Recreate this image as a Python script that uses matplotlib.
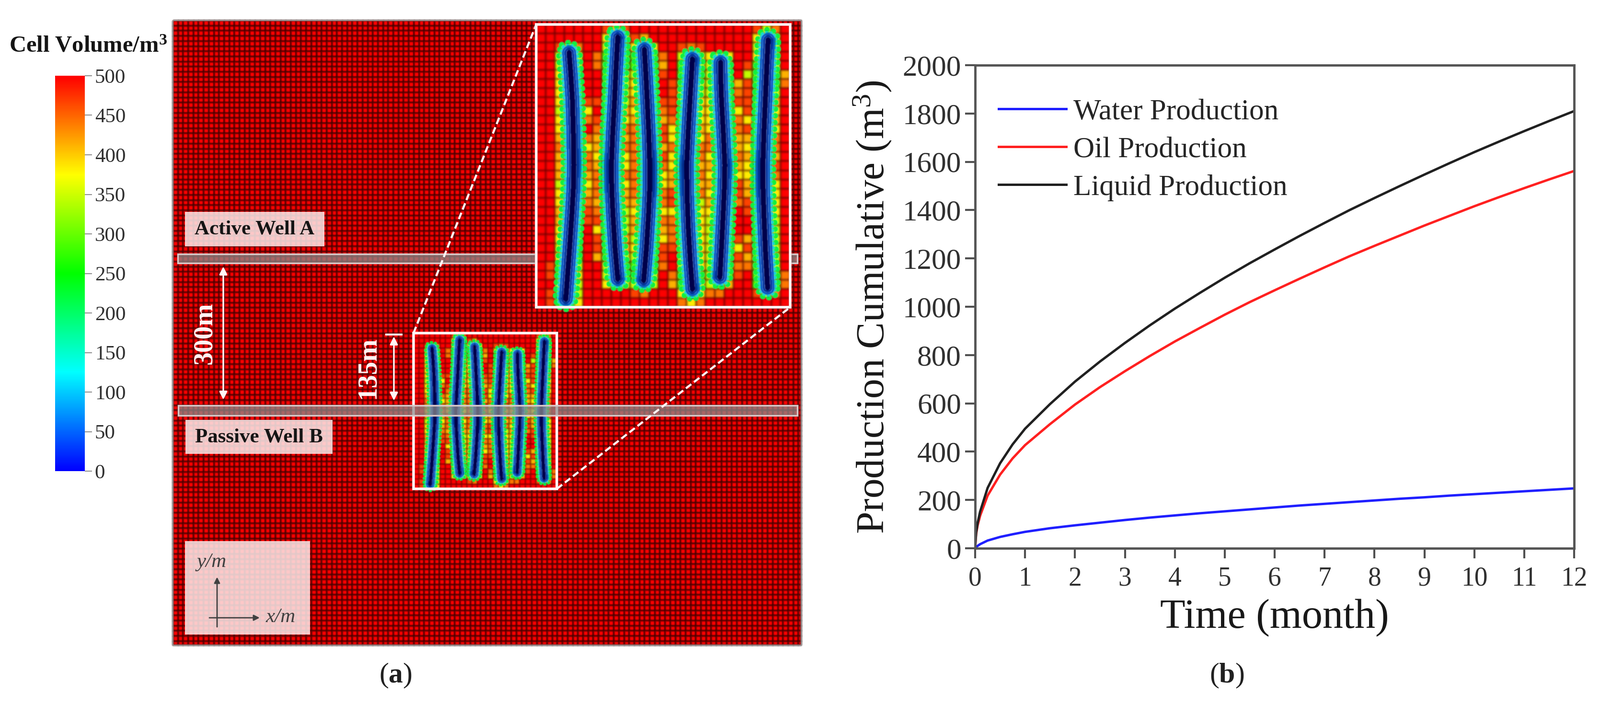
#!/usr/bin/env python3
"""Fracture mesh panel (a) and cumulative production curves (b)."""
import numpy as np
import matplotlib
matplotlib.use("Agg")
import matplotlib.pyplot as plt
from matplotlib.colors import LinearSegmentedColormap
from matplotlib.patches import Rectangle
from matplotlib.cm import ScalarMappable
from matplotlib.colors import Normalize

W, H = 3339, 1471

# production curves
TIME = [0, 0.02, 0.05, 0.1, 0.25, 0.5, 0.75, 1, 1.5, 2, 2.5, 3, 3.5, 4, 4.5, 5, 5.5, 6, 6.5, 7, 7.5, 8, 8.5, 9, 9.5, 10, 10.5, 11, 11.5, 12]
WATER = [0, 5, 10, 17, 32, 47, 58, 68, 83, 95, 106, 117, 127, 136, 145, 153, 161, 169, 177, 184, 191, 198, 205, 211, 218, 224, 230, 236, 242, 248]
OIL = [0, 60, 95, 135, 218, 305, 372, 427, 514, 595, 667, 733, 796, 856, 912, 967, 1019, 1068, 1116, 1163, 1209, 1252, 1294, 1336, 1376, 1416, 1454, 1491, 1527, 1562]
LIQUID = [0, 65, 105, 152, 250, 352, 430, 495, 597, 690, 773, 850, 923, 992, 1057, 1120, 1180, 1237, 1293, 1347, 1400, 1450, 1499, 1547, 1594, 1640, 1684, 1727, 1769, 1810]
X_TICKS = list(range(0, 13))
Y_TICKS = list(range(0, 2001, 200))
CBAR_TICKS = list(range(0, 501, 50))

# cell volumes in the refined box, one letter per cell
CELL_VALUES = {"R": 500, "N": 465, "O": 440, "A": 412, "Y": 382, "L": 345, "G": 285}
CELL_ROWS = [
    "RRRRRRRNANRRRR" "RRRRRRRRRNLOR",
    "RRRRRRRYGLNARR" "RRRRRRRRRYGLR",
    "RRNLORRLGGYGYR" "RNONRRRRRLGLR",
    "RRLGLROGGGGGGO" "RLGLYLYRRYGLR",
    "RRLGLROGGGGGGA" "RGGLLGGRNGGLR",
    "RRYGGRRGGLLGGN" "RGGGLGGRLGGGA",
    "RRYGGRRGGLYGGR" "NGGLLGGANGGGO",
    "RRYGGRRGGLYGGR" "NLGLLGGONGGLR",
    "RRYGGNNGGLAGGN" "NLGYYGGNNGGAR",
    "RRLGGYRGGAYGGO" "NGGYYGGYNGGYR",
    "RRYGGONGGYAGGA" "OGGYYGGOYGGAR",
    "RRYGGROGGOOGGN" "YGGAYGGONGGYR",
    "RRAGGOAGGAOGGN" "YGGYOGGAAGGOR",
    "RROGGYAGGOOGGA" "OGGOOGGAYGGOR",
    "RRAGGOYGGYOGGN" "YGGOYGGOAGGAR",
    "RRAGGOAGGYOGGO" "YGGAAGGAYGGNR",
    "RRAGGAOGGOOGGY" "AGGOYGGYYGGOR",
    "RRLGGYOGGYOGGY" "AGGAAGGNAGGYR",
    "RRYGGAOGGAOGGO" "NGGOYGGNAGGYR",
    "RRYGGOAGGAAGGO" "NGGLAGGONGGYR",
    "RRAGGNOGGLYGGY" "YGGYYGGRNGGYR",
    "RRAGGNNGGLAGGO" "OGGYLGGRRGGLR",
    "RRYGGRYGGLAGGA" "OGGYLGGRRGGLR",
    "RRYGGRNGGALGGY" "OGGYLGGNAGGLR",
    "RRLGGRNGGAYGGN" "NLGYLGGYNGGLR",
    "RRYGGRAGGLLGGN" "RLGYLGGNAGGLR",
    "RNGGLRRLGGGGGO" "RLGYLGGOOGGLR",
    "RNGGYRRLGGGGLR" "OGGGLGGNRGGGO",
    "RRLGLRRYGLLGLR" "AGGLLGARRGGGO",
    "RNGGLRRRRRNORR" "RYGYOORRRNLOR",
    "RNGGYRRRRRRRRR" "ROYORRRRRRRRR",
]

# fracture centre lines in cell units (column, row)
FRACTURES = [
    [(3.5, 3.1), (3.68, 5.5), (3.85, 8.3), (3.95, 12), (4.0, 15.4), (3.95, 18), (3.8, 20.7), (3.55, 24.5), (3.15, 30.1)],
    [(8.67, 1.4), (8.48, 5), (8.33, 8.3), (8.13, 12), (8.0, 15.4), (8.03, 18), (8.15, 20.7), (8.38, 24.5), (8.67, 27.9)],
    [(11.5, 2.75), (11.66, 5.5), (11.8, 8.3), (11.97, 12), (12.07, 15.4), (12.06, 18), (11.95, 20.7), (11.72, 24.5), (11.43, 28.05)],
    [(16.6, 3.8), (16.48, 6), (16.35, 8.3), (16.15, 12), (16.0, 15.4), (16.05, 19), (16.17, 22.3), (16.38, 26), (16.6, 29.0)],
    [(19.6, 4.16), (19.62, 6), (19.7, 8.3), (19.9, 12), (20.05, 15.4), (20.0, 18), (19.88, 20.7), (19.72, 24), (19.53, 27.7)],
    [(24.65, 1.7), (24.5, 5), (24.36, 8.3), (24.2, 12), (24.1, 15.4), (24.12, 18), (24.2, 20.7), (24.38, 25), (24.6, 28.85)],
]

plt.rcParams.update({"font.family": "Liberation Serif", "mathtext.fontset": "custom",
                     "mathtext.rm": "Liberation Serif", "mathtext.bf": "Liberation Serif:bold",
                     "mathtext.it": "Liberation Serif:italic"})
RAINBOW = LinearSegmentedColormap.from_list("cell", ["#0000ff", "#00ffff", "#00ff00", "#ffff00", "#ff0000"])
NORM = Normalize(0, 500)


def blur(sigma):
    # soft look of the reference, applied through agg_filter
    r = int(3 * sigma) + 1
    k = np.exp(-0.5 * (np.arange(-r, r + 1) / sigma) ** 2)
    k /= k.sum()
    def f(im, dpi):
        pad = r + 1
        out = np.pad(im, ((pad, pad), (pad, pad), (0, 0)))
        for ch in range(4):
            out[..., ch] = np.apply_along_axis(np.convolve, 0, out[..., ch], k, "same")
            out[..., ch] = np.apply_along_axis(np.convolve, 1, out[..., ch], k, "same")
        return out, -pad, -pad
    return f


def axes_px(x0, y0, x1, y1):
    return fig.add_axes([x0 / W, 1 - y1 / H, (x1 - x0) / W, (y1 - y0) / H])


def draw_box(ax, x0, y0, x1, y1, scale, zo):
    # cells, then the fractures over them
    vals = np.array([[CELL_VALUES[c] for c in row] for row in CELL_ROWS], dtype=float)
    nr, nc = vals.shape
    xs = np.linspace(x0, x1, nc + 1)
    ys = np.linspace(y0, y1, nr + 1)
    m = ax.pcolormesh(xs, ys, vals, cmap=RAINBOW, norm=NORM, edgecolors=(0.25, 0, 0, 0.45),
                      linewidth=1.5 * scale, zorder=zo)
    m.set_agg_filter(blur(1.6 * scale + 0.3))
    sx, sy = (x1 - x0) / nc, (y1 - y0) / nr
    for frac in FRACTURES:
        p = np.array(frac) * [sx, sy] + [x0, y0]
        for off, col, dot, gap in [(22, "#10f040", 12, 1.15), (16, "#10d8d8", 8, 1.1)]:
            o = off * scale
            left = p + [-o, 0]
            right = p + [o, 0]
            top = [[p[0, 0] - 0.7 * o, p[0, 1] - 0.75 * o], [p[0, 0], p[0, 1] - o], [p[0, 0] + 0.7 * o, p[0, 1] - 0.75 * o]]
            bot = [[p[-1, 0] + 0.7 * o, p[-1, 1] + 0.75 * o], [p[-1, 0], p[-1, 1] + o], [p[-1, 0] - 0.7 * o, p[-1, 1] + 0.75 * o]]
            loop = np.vstack([top, right, bot, left[::-1], [top[0]]])
            line, = ax.plot(loop[:, 0], loop[:, 1], color=col, lw=dot * scale * 0.72, ls=(0, (0.01, gap)),
                            dash_capstyle="round", zorder=zo + 0.1)
            line.set_agg_filter(blur(0.5 + scale * 0.4))
        for width, col in [(30, "#0a58c8"), (20, "#04329c"), (11, "#00004a")]:
            line, = ax.plot(p[:, 0], p[:, 1], color=col, lw=width * scale * 0.72, solid_capstyle="round",
                            solid_joinstyle="round", zorder=zo + 0.2)
            line.set_agg_filter(blur(0.5 + 0.6 * scale))
    ax.add_patch(Rectangle((x0, y0), x1 - x0, y1 - y0, fill=False, ec="#fff4f4", lw=4, zorder=zo + 0.5))


def soft_label(ax, x0, y0, x1, y1, zo=3):
    ax.add_patch(Rectangle((x0, y0), x1 - x0, y1 - y0, fc=(1, 0.94, 0.94, 0.84), ec="none", zorder=zo))


def well(ax, x0, y0, x1, y1, zo):
    ax.add_patch(Rectangle((x0, y0), x1 - x0, y1 - y0, fc=(0.55, 0.55, 0.55, 0.72), ec="#d8c8c8", lw=2.5, zorder=zo))


fig = plt.figure(figsize=(W / 100, H / 100), dpi=100, facecolor="white")

# panel (a) is laid out in picture pixels
ax = fig.add_axes([0, 0, 1, 1])
ax.set_xlim(0, W)
ax.set_ylim(H, 0)
ax.axis("off")

PITCH = 10.7
gx = np.arange(361, 1672 + PITCH, PITCH).clip(max=1672)
gy = np.arange(43, 1346 + PITCH, PITCH).clip(max=1346)
base = ax.pcolormesh(gx, gy, np.full((len(gy) - 1, len(gx) - 1), 500.0), cmap=RAINBOW, norm=NORM,
                     edgecolors=(0.2, 0, 0, 0.62), linewidth=1.7, zorder=1)
base.set_agg_filter(blur(1.0))
ax.add_patch(Rectangle((361, 43), 1311, 1303, fill=False, ec="#999090", lw=1.5, zorder=1.2))

well(ax, 371, 530, 1664, 549, 2)
draw_box(ax, 863, 695, 1162, 1020, 0.6, 3)
well(ax, 372, 846, 1664, 867, 4)

for (x0, y0, x1, y1) in [(863, 695, 1119, 51), (1162, 1020, 1649, 641)]:
    ax.plot([x0, x1], [y0, y1], color="#fff4f4", lw=3.2, ls=(0, (3.2, 1.6)), zorder=4.5)
draw_box(ax, 1119, 51, 1649, 641, 1.0, 5)

soft_label(ax, 386, 442, 677, 514)
ax.text(531, 478, "Active Well A", ha="center", va="center", fontsize=31, fontweight="bold", color="#151515", zorder=6)
soft_label(ax, 387, 876, 694, 947)
ax.text(540, 912, "Passive Well B", ha="center", va="center", fontsize=31, fontweight="bold", color="#151515", zorder=6)
soft_label(ax, 386, 1129, 647, 1324)

arrow = dict(arrowstyle="<|-|>", color="#fff4f4", lw=2.5, mutation_scale=24, shrinkA=0, shrinkB=0)
ax.annotate("", xy=(466, 556), xytext=(466, 834), arrowprops=arrow, zorder=6)
ax.text(427, 695, "300m", rotation=90, ha="center", va="center", fontsize=40, fontweight="bold", color="#fff4f4", zorder=6)
ax.annotate("", xy=(822, 702), xytext=(822, 836), arrowprops=arrow, zorder=6)
ax.plot([806, 838], [698, 698], color="#fff4f4", lw=3, zorder=6)
ax.text(768, 767, "135m", rotation=90, ha="center", va="center", fontsize=40, fontweight="bold", color="#fff4f4", zorder=6)

axis_arrow = dict(arrowstyle="-|>", color="#404040", lw=2, mutation_scale=18, shrinkA=0, shrinkB=0)
ax.annotate("", xy=(453, 1204), xytext=(453, 1308), arrowprops=axis_arrow, zorder=6)
ax.annotate("", xy=(542, 1289), xytext=(437, 1289), arrowprops=axis_arrow, zorder=6)
ax.text(442, 1173, "y/m", ha="center", va="center", fontsize=31, style="italic", color="#404040", zorder=6)
ax.text(586, 1288, "x/m", ha="center", va="center", fontsize=31, style="italic", color="#404040", zorder=6)

ax.text(184, 96, "Cell Volume/m$^{\\mathbf{3}}$", ha="center", va="center", fontsize=35, fontweight="bold", color="#151515")
ax.text(826, 1410, "($\\mathbf{a}$)", ha="center", va="center", fontsize=43, color="#202020")
ax.text(2560, 1410, "($\\mathbf{b}$)", ha="center", va="center", fontsize=43, color="#202020")

# colour bar
cax = axes_px(115, 158, 177, 983)
cb = fig.colorbar(ScalarMappable(norm=NORM, cmap=RAINBOW), cax=cax, ticks=CBAR_TICKS)
cb.outline.set_visible(False)
cb.ax.tick_params(length=11, width=1.5, color="#909090", labelsize=31, labelcolor="#303030", pad=4)

# panel (b)
ax2 = axes_px(2035, 136, 3285, 1144)
ax2.plot(TIME, WATER, color="#1f1fff", lw=3.6, label="Water Production")
ax2.plot(TIME, OIL, color="#ff2020", lw=3.6, label="Oil Production")
ax2.plot(TIME, LIQUID, color="#202020", lw=3.6, label="Liquid Production")
ax2.set_xlim(0, 12)
ax2.set_ylim(0, 2000)
ax2.set_xticks(X_TICKS)
ax2.set_yticks(Y_TICKS)
ax2.tick_params(axis="both", length=15, width=3, color="#505050", labelcolor="#303030", direction="out")
ax2.tick_params(axis="x", labelsize=40, pad=12)
ax2.tick_params(axis="y", labelsize=44, pad=6)
for s in ax2.spines.values():
    s.set_color("#555555")
    s.set_linewidth(3.5)
ax2.set_xlabel("Time (month)", fontsize=62, labelpad=12, color="#181818")
ax2.set_ylabel("Production Cumulative (m$^3$)", fontsize=60, labelpad=14, color="#181818")
ax2.legend(frameon=False, loc="upper left", fontsize=44, handlelength=2.3, handletextpad=0.25,
           labelspacing=0.38, bbox_to_anchor=(0.02, 0.955), borderaxespad=0, labelcolor="#252525")

fig.savefig("out.png", dpi=100, facecolor="white")
